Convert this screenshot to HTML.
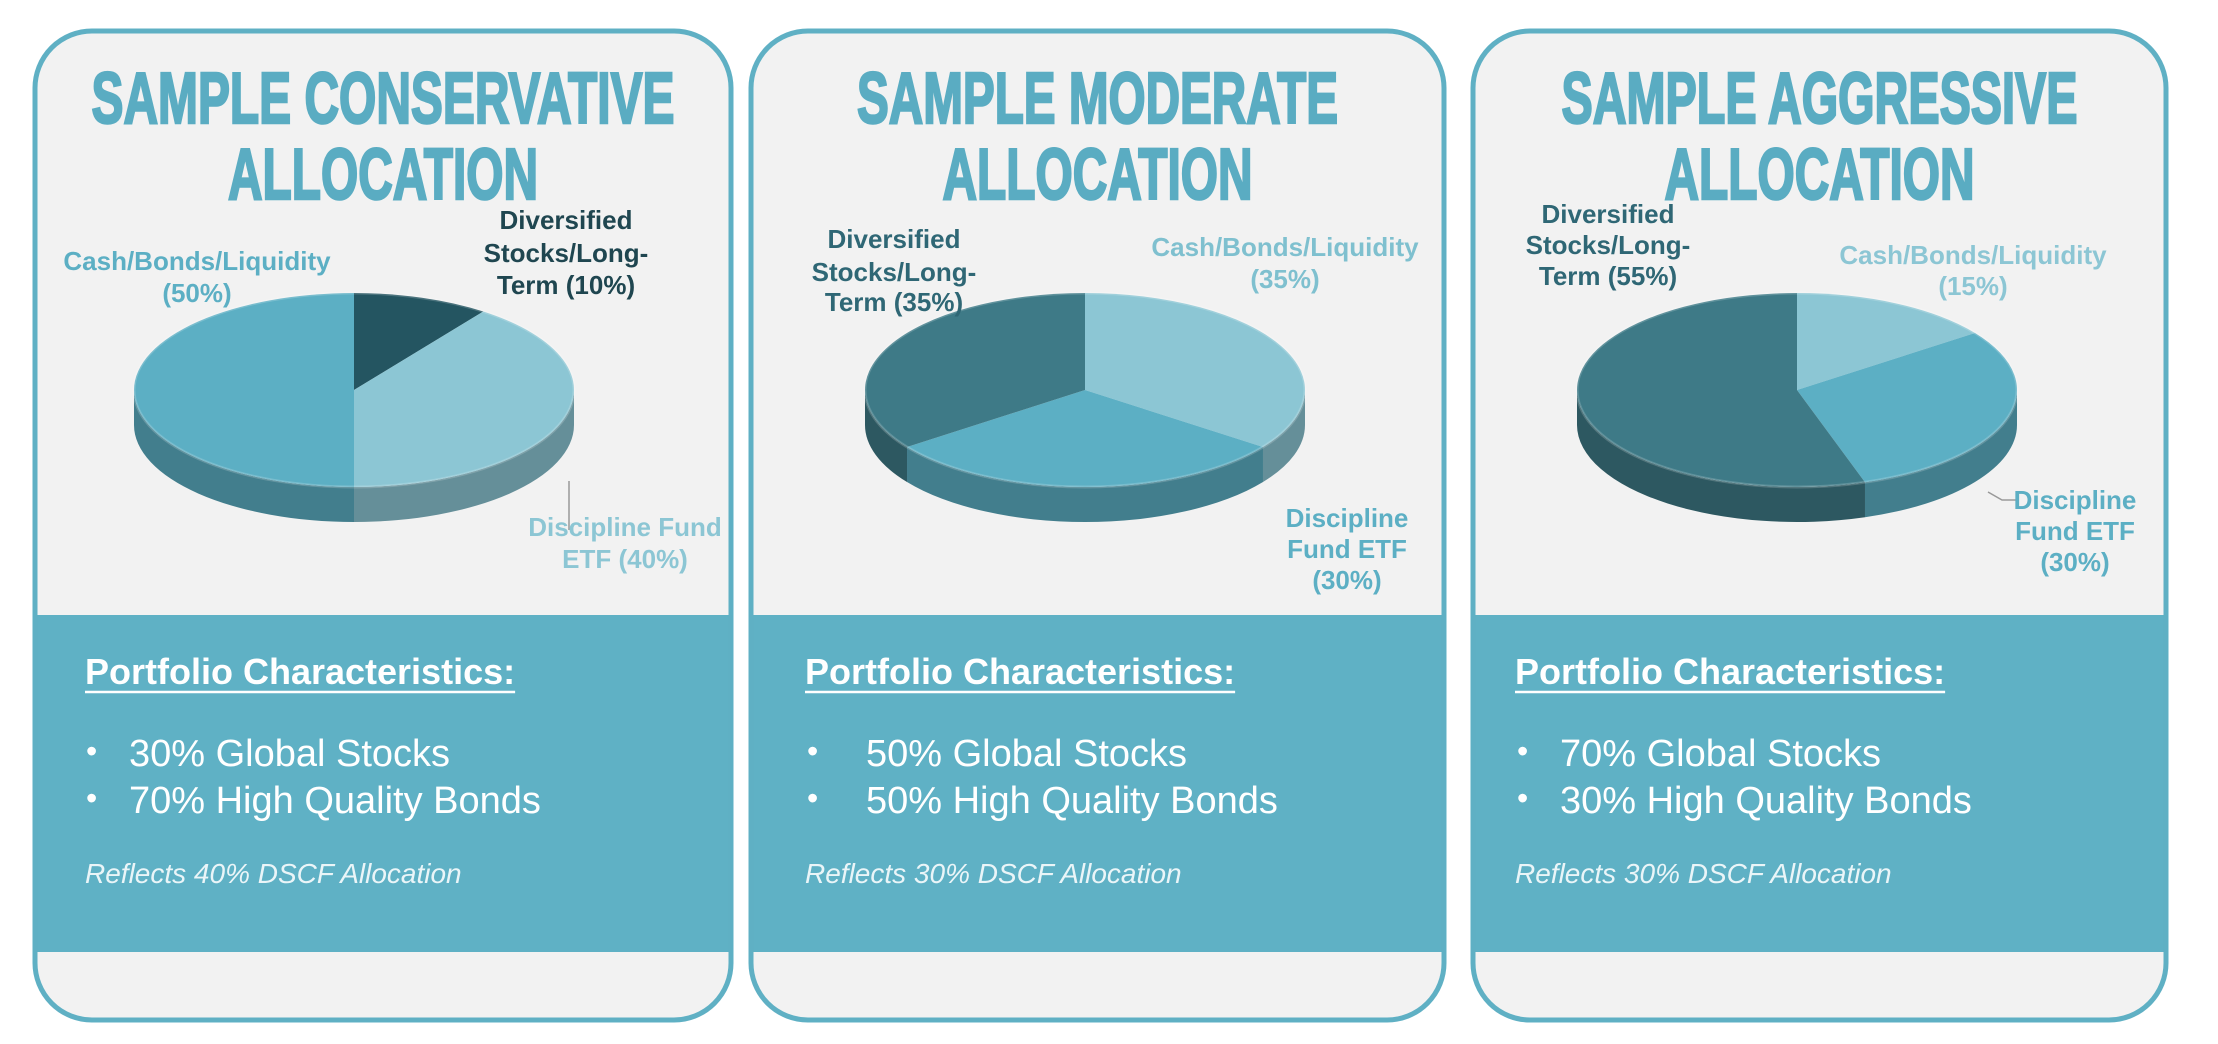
<!DOCTYPE html>
<html><head><meta charset="utf-8"><style>
html,body{margin:0;padding:0;background:#fff}
svg{display:block}
</style></head><body>
<svg id="chart" width="2218" height="1044" viewBox="0 0 2218 1044" xmlns="http://www.w3.org/2000/svg" font-family="Liberation Sans, sans-serif">
<defs>
<clipPath id="c0"><rect x="35" y="31" width="696" height="989" rx="57"/></clipPath>
<clipPath id="c1"><rect x="751" y="31" width="693" height="989" rx="57"/></clipPath>
<clipPath id="c2"><rect x="1473" y="31" width="693" height="989" rx="57"/></clipPath>
</defs>
<g id="cards"></g>
</svg>
<script>
const pieValues1 = [10, 40, 50];
const pieValues2 = [35, 30, 35];
const pieValues3 = [15, 30, 55];
const cardTitles = [["SAMPLE CONSERVATIVE","ALLOCATION"],["SAMPLE MODERATE","ALLOCATION"],["SAMPLE AGGRESSIVE","ALLOCATION"]];
const bullets = [["30% Global Stocks","70% High Quality Bonds"],["50% Global Stocks","50% High Quality Bonds"],["70% Global Stocks","30% High Quality Bonds"]];
const notes = ["Reflects 40% DSCF Allocation","Reflects 30% DSCF Allocation","Reflects 30% DSCF Allocation"];

const NS="http://www.w3.org/2000/svg";
const root=document.getElementById('cards');
function mk(tag,attrs,parent){const e=document.createElementNS(NS,tag);for(const k in attrs)e.setAttribute(k,attrs[k]);(parent||root).appendChild(e);return e;}
const dark="#245561", light="#8cc6d4", mid="#5cafc4";
const cfg=[
 {x:35,w:696,cx:354,titleW:[583,310],pie:pieValues1,cols:[dark,light,mid],
  head:85,bul:86,txt:129,
  labels:[{l:["Diversified","Stocks/Long-","Term (10%)"],x:566,y:[229,262,294],c:"#1f4650"},
          {l:["Discipline Fund","ETF (40%)"],x:625,y:[536,568],c:"#8cc6d4"},
          {l:["Cash/Bonds/Liquidity","(50%)"],x:197,y:[270,302],c:"#5cafc4"}],
  leader:[[569,481],[569,530]]},
 {x:751,w:693,cx:1085,titleW:[481,310],pie:pieValues2,cols:[light,mid,"#3e7a87"],
  head:805,bul:807,txt:866,
  labels:[{l:["Cash/Bonds/Liquidity","(35%)"],x:1285,y:[256,288],c:"#7fc0cf"},
          {l:["Discipline","Fund ETF","(30%)"],x:1347,y:[527,558,589],c:"#5cafc4"},
          {l:["Diversified","Stocks/Long-","Term (35%)"],x:894,y:[248,281,311],c:"#2f6775"}],
  leader:null},
 {x:1473,w:693,cx:1797,titleW:[516,310],pie:pieValues3,cols:[light,mid,"#3e7a87"],
  head:1515,bul:1517,txt:1560,
  labels:[{l:["Cash/Bonds/Liquidity","(15%)"],x:1973,y:[264,295],c:"#8cc6d4"},
          {l:["Discipline","Fund ETF","(30%)"],x:2075,y:[509,540,571],c:"#5cafc4"},
          {l:["Diversified","Stocks/Long-","Term (55%)"],x:1608,y:[223,254,285],c:"#2f6775"}],
  leader:[[1988,492],[2002,500],[2016,500]]}
];
function shade(hex,f){const n=parseInt(hex.slice(1),16);let r=n>>16,g=(n>>8)&255,b=n&255;return `rgb(${Math.round(r*f)},${Math.round(g*f)},${Math.round(b*f)})`;}
cfg.forEach((c,i)=>{
  const g=mk('g',{'clip-path':`url(#c${i})`});
  
  
  const bg=mk('rect',{x:c.x,y:31,width:c.w,height:989,fill:'#f2f2f2'},g);
  
  
  const band=mk('rect',{x:c.x,y:615,width:c.w,height:337,fill:'#5fb1c5'},g);
  
  
  const bd=mk('rect',{x:c.x,y:31,width:c.w,height:989,rx:57,fill:'none',stroke:'#5fb0c4','stroke-width':5});
  
  
  cardTitles[i].forEach((t,k)=>{
    const tx=mk('text',{x:c.x+c.w/2,y:[123,199][k],'text-anchor':'middle','font-size':72,'font-weight':'bold',fill:'#5aacc2',stroke:'#5aacc2','stroke-width':2.5,textLength:c.titleW[k],lengthAdjust:'spacingAndGlyphs'});
    tx.textContent=t;
    
    
  });
  const cx=c.cx, cy=390, rx=220, ry=97, dep=35;
  const pg=mk('g',{});
  
  
  const total=c.pie.reduce((a,b)=>a+b,0);
  const P=(a,dy)=>[cx+rx*Math.sin(a),cy-ry*Math.cos(a)+(dy||0)];
  let acc=0;const slices=[];
  c.pie.forEach((v,k)=>{const a0=acc/total*2*Math.PI;acc+=v;const a1=acc/total*2*Math.PI;slices.push([a0,a1,k]);});
  slices.forEach(([a0,a1,k])=>{
    const s=Math.max(a0,Math.PI/2), e=Math.min(a1,3*Math.PI/2);
    if(e<=s)return;
    const p0=P(s),p1=P(e),q1=P(e,dep),q0=P(s,dep);
    const d=`M${p0} A${rx},${ry} 0 0 1 ${p1} L${q1} A${rx},${ry} 0 0 0 ${q0} Z`;
    const sp=mk('path',{d:d,fill:shade(c.cols[k],0.72)},pg);
    
    
  });
  slices.forEach(([a0,a1,k])=>{
    const p0=P(a0),p1=P(a1),large=(a1-a0)>Math.PI?1:0;
    const sp=mk('path',{d:`M${cx},${cy} L${p0} A${rx},${ry} 0 ${large} 1 ${p1} Z`,fill:c.cols[k]},pg);
    
    
  });
  const rim=mk('ellipse',{cx:cx,cy:cy,rx:rx,ry:ry,fill:'none',stroke:'rgba(255,255,255,0.18)','stroke-width':3},pg);
  
  
  if(c.leader){const ln=mk('polyline',{points:c.leader.map(p=>p.join(',')).join(' '),fill:'none',stroke:'#999','stroke-width':1.5});
    
    }
  c.labels.forEach(L=>{
    L.l.forEach((t,k)=>{
      const tx=mk('text',{x:L.x,y:L.y[k],'text-anchor':'middle','font-size':26,'font-weight':'bold',fill:L.c});
      tx.textContent=t;
      
      
    });
  });
  const h=mk('text',{x:c.head,y:684,'font-size':36,'font-weight':'bold',fill:'#fff'});
  h.textContent='Portfolio Characteristics:';
  
  
  const hw=h.getComputedTextLength();
  const ul=mk('line',{x1:c.head,y1:692,x2:c.head+hw,y2:692,stroke:'#fff','stroke-width':2.5});
  
  
  bullets[i].forEach((t,k)=>{
    const b=mk('text',{x:c.bul,y:762+k*47,'font-size':32,fill:'#fff'});b.textContent='•';
    
    
    const tx=mk('text',{x:c.txt,y:766+k*47,'font-size':38,fill:'#fff'});tx.textContent=t;
    
    
  });
  const n=mk('text',{x:c.head,y:883,'font-size':28,'font-style':'italic',fill:'#eaf5f8'});n.textContent=notes[i];
  
  
});
</script>
</body></html>
